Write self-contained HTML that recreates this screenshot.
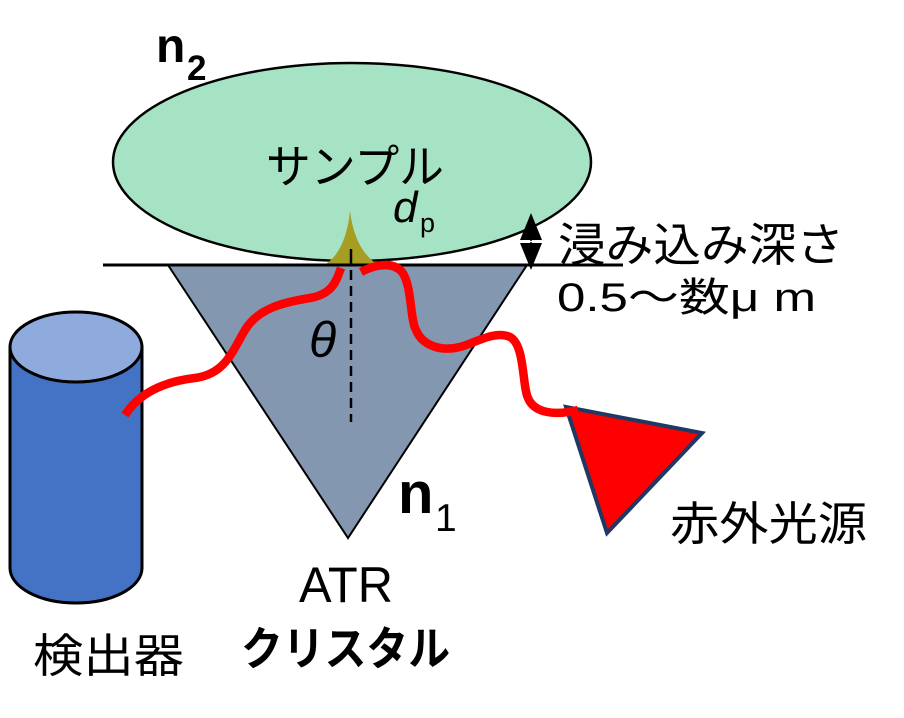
<!DOCTYPE html>
<html>
<head>
<meta charset="utf-8">
<style>
html,body{margin:0;padding:0;background:#fff;}
svg{display:block;}
text{font-family:"Liberation Sans","Noto Sans CJK JP",sans-serif;}
</style>
</head>
<body>
<svg width="904" height="718" viewBox="0 0 904 718" xmlns="http://www.w3.org/2000/svg">
  <!-- sample ellipse -->
  <ellipse cx="352" cy="162" rx="239" ry="99" fill="#A6E3C4" stroke="#000" stroke-width="2.5"/>
  <!-- evanescent spike -->
  <path d="M326,264 Q346,250 350,211 Q355,250 377,264 Z" fill="#A59E22"/>
  <!-- crystal -->
  <polygon points="168,265 527,265 348,538" fill="#8497B0" stroke="#000" stroke-width="2"/>
  <!-- horizontal interface line -->
  <line x1="103" y1="265" x2="623" y2="265" stroke="#000" stroke-width="3"/>
  <!-- normal tick + dashed -->
  <line x1="351" y1="249" x2="351" y2="265" stroke="#000" stroke-width="2.5"/>
  <line x1="351" y1="270" x2="351" y2="422" stroke="#000" stroke-width="2.5" stroke-dasharray="10,6"/>

  <!-- detector cylinder -->
  <path d="M10,347 L10,568 A66,35 0 0 0 142,568 L142,347 Z" fill="#4472C4" stroke="#000" stroke-width="3"/>
  <ellipse cx="76" cy="347" rx="66" ry="35" fill="#8FAADC" stroke="#000" stroke-width="3"/>

  <!-- IR source -->
  <polygon points="566,407 702,433 607,533" fill="#FF0000" stroke="#1F3864" stroke-width="4" stroke-linejoin="miter"/>

  <!-- red waves -->
  <path d="M125,415 C138,395 160,382 195,378 C225,374 232,352 245,330 C258,308 285,302 310,298 C332,294 336,282 341,268" fill="none" stroke="#FF0000" stroke-width="8.5"/>
  <path d="M361,272 C372,266 392,260 402,272 C412,285 410,320 416,330 C422,345 440,352 460,347 C475,343 495,330 510,337 C525,345 522,385 528,398 C534,413 555,416 578,410" fill="none" stroke="#FF0000" stroke-width="8.5"/>

  <!-- depth arrow -->
  <polygon points="531,213 520,240 542,240" fill="#000"/>
  <polygon points="520,243 542,243 531,270" fill="#000"/>
  <line x1="531" y1="230" x2="531" y2="255" stroke="#000" stroke-width="2"/>
  <line x1="522" y1="241.5" x2="540" y2="241.5" stroke="#fff" stroke-width="1.5"/>

  <!-- labels -->
  <text x="156" y="62" font-size="48" font-weight="bold">n</text>
  <text x="187" y="80" font-size="35" font-weight="bold">2</text>

  <text x="398" y="513" font-size="58" font-weight="bold">n</text>
  <text x="435" y="531" font-size="39">1</text>

  <text x="266" y="183" font-size="46" textLength="178" lengthAdjust="spacingAndGlyphs">サンプル</text>

  <text x="393" y="222" font-size="44" font-style="italic" font-family="Liberation Sans, sans-serif">d</text>
  <text x="420" y="232" font-size="27">p</text>

  <text x="309" y="357" font-size="50" font-style="italic" font-family="Liberation Serif, serif">θ</text>

  <text x="558" y="261" font-size="46" textLength="286" lengthAdjust="spacingAndGlyphs">浸み込み深さ</text>
  <text x="557" y="311" font-size="40" textLength="259" lengthAdjust="spacingAndGlyphs">0.5～数μ m</text>

  <text x="670" y="540" font-size="46" textLength="197" lengthAdjust="spacingAndGlyphs">赤外光源</text>

  <text x="299" y="602" font-size="50" textLength="94" lengthAdjust="spacingAndGlyphs">ATR</text>
  <text x="241" y="665" font-size="46" font-weight="bold" textLength="209" lengthAdjust="spacingAndGlyphs">クリスタル</text>

  <text x="33" y="672" font-size="46" textLength="151" lengthAdjust="spacingAndGlyphs">検出器</text>
</svg>
</body>
</html>
